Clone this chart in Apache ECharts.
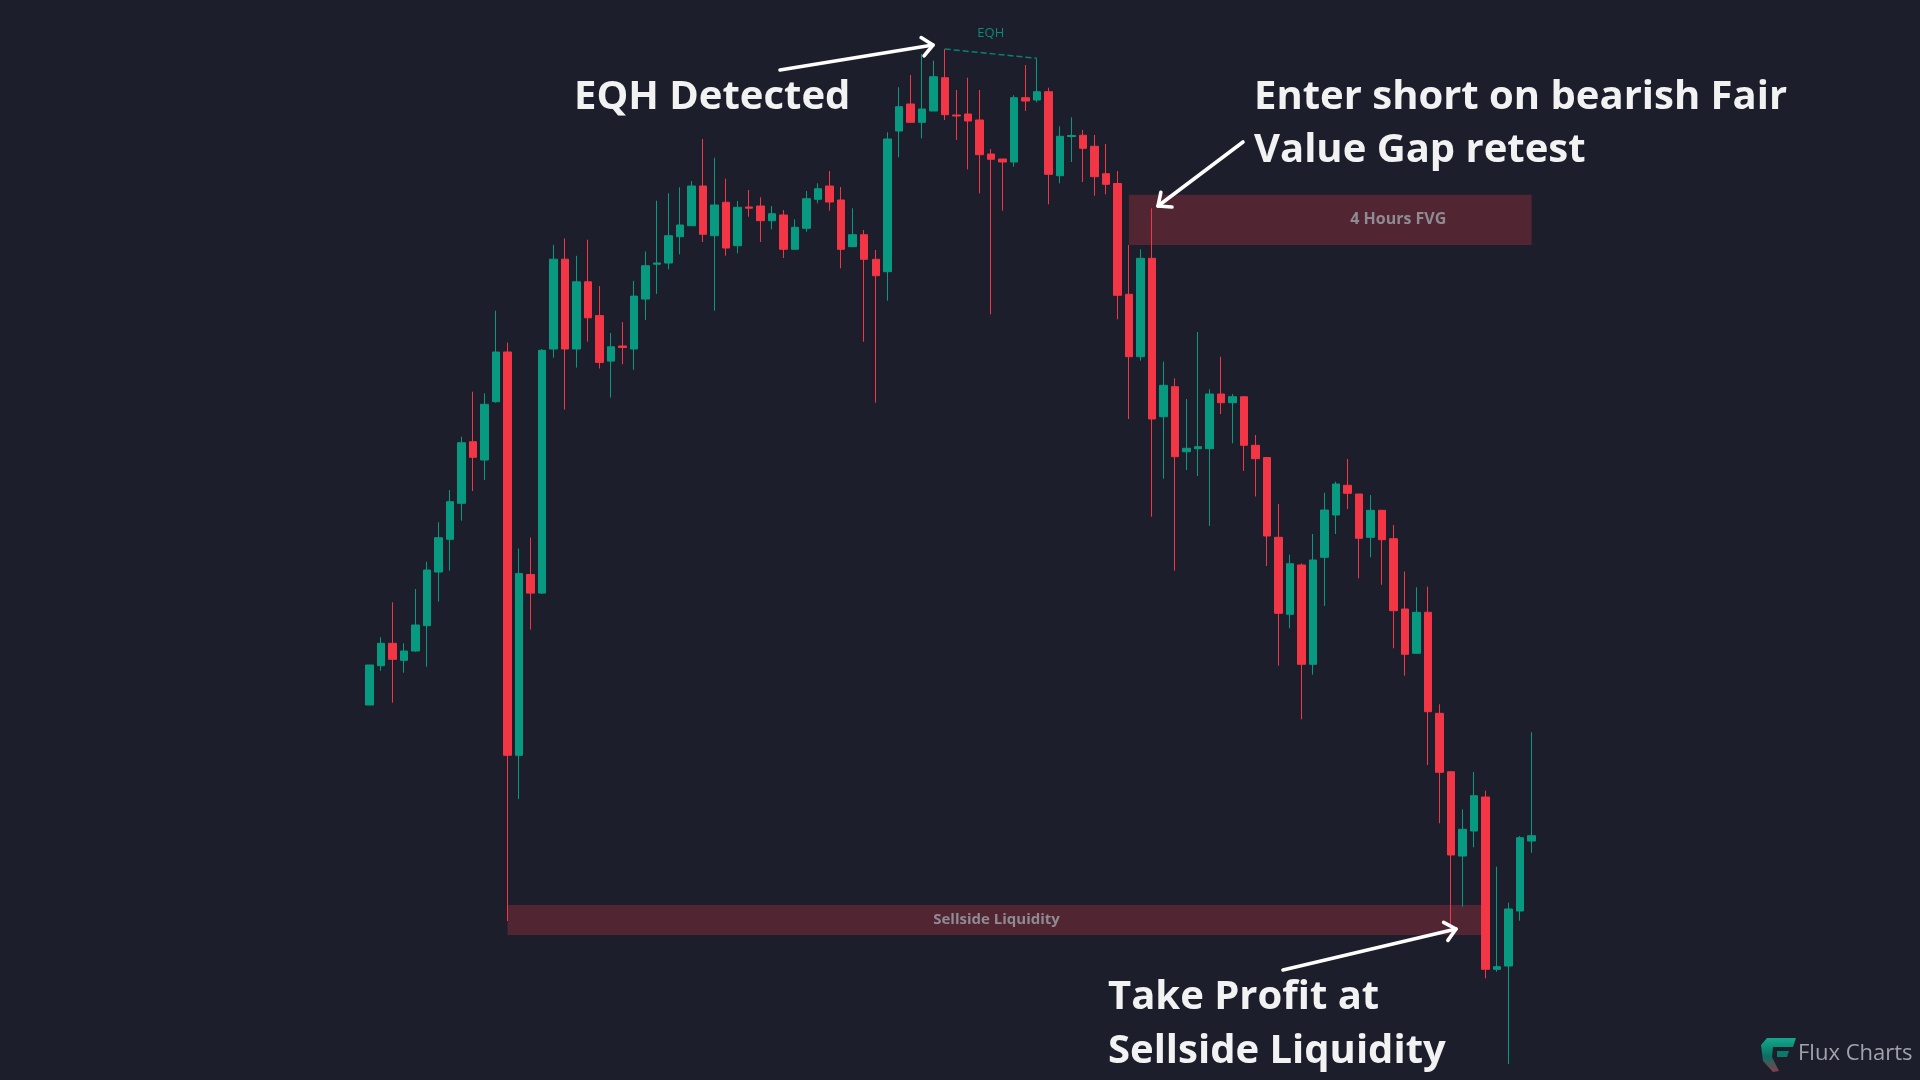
<!DOCTYPE html>
<html><head><meta charset="utf-8">
<script src="https://cdn.jsdelivr.net/npm/echarts@6/dist/echarts.min.js"></script>
<style>html,body{margin:0;padding:0;background:#1c1f2b;overflow:hidden}#c{width:1920px;height:1080px}</style>
</head><body><div id="c"></div>
<script>
// Price levels (arbitrary units, no axis shown in the reference)
const opens = [375,414.3,436.7,419.7,429,454.3,508,540.7,576.7,638.3,620,678.3,728,324.7,505.5,486.9,731,820.8,731,798.2,764.4,718.9,734,731,780.9,815.8,817,843.3,854.3,894,844.3,877.7,834.3,873,874,859.3,865,830.7,851.7,880.7,894,880,833.3,845.3,820.7,808.3,949,976,957.7,969,1002.3,965,966,960,926,921,918,982.3,980,988.3,904.3,943.5,944.7,933.7,906.3,896.5,785.7,723.3,821.7,663.3,693.3,628.3,631.3,631.3,686,677.3,683.3,634.7,622.5,542.7,465.7,515,415.7,522.7,565,594.7,586,542.7,569.7,541.3,471,426.7,467.7,366.7,308.3,224,249,283,110.7,114,169,239];
const closes = [415,436.7,420.7,429,455,510,542.3,578.3,637.3,622.7,675.7,728,324.7,506.4,486.9,729.7,820.8,731,798.2,762.2,717.6,733.2,732.5,783.9,814.3,817,844.3,855,894,845.7,875,832,872.7,871.8,859.3,866.3,830.7,852.7,881.3,891.3,878,830.7,845.3,820.7,804.3,941,973.3,957.7,971,1003.3,965.3,964,959,925.3,920.7,918,982.3,979,988.3,905.7,943.7,944.5,931.7,903.3,895.7,784.7,723.3,821.7,661,694.7,623.3,631.7,633.3,686,677.3,683.3,634.7,621.3,544,466.7,516.3,415.7,520,570,596,586.7,541.7,569.7,540.3,469.3,425.7,467.7,368.3,307.7,225,250.7,284.3,110.7,113.3,171,242.3,244.3];
const lows = [375,409.3,377.3,407.3,428.3,413.3,478.3,509.3,559.3,589,600,677.3,159,280.9,450.4,486,722.3,670.3,712.4,738.4,711.5,682.4,715.8,710.2,760.1,786.1,810.7,825.7,854.3,838,769.3,824.3,826.7,863.3,838,850.7,822,830.7,848.3,876.7,869.3,811.7,833.3,738.3,677.3,779.3,922.7,957.7,941.7,969,960,940,910.7,886.7,765.7,869.3,913.3,969,977.7,875.7,896.7,918,898,884.3,885.7,760.7,661,719.3,563.3,601.3,509.3,610,604,554,666,636.7,609,583.5,514,414.3,451.7,360.7,405.3,474,546,571,501.7,522.7,495.3,431.7,404.3,426.7,315,256.7,155,173.3,232.7,101.7,108.3,16,159.3,227.3];
const highs = [415,442.7,477.7,436.7,491,518.3,557.7,590,643.3,688.3,686.7,769.3,737.5,531.5,542.4,731,835.1,841.6,824.2,840.3,793.9,747,757.9,799.1,828.6,879.3,886.8,892.7,899,941,922.3,901.3,879,890,882.7,874,870,860.7,889,896.7,909,893,871.7,850,830,947.7,992.7,1005,1026,1019.3,1031,990,1002.3,990,931,921,984.7,1015,1021,992.3,953.7,962.7,950,945,936,909,835,830.7,871.7,718.3,701.7,681,748,690.7,723.3,686,683.3,645,622.7,576,525.3,516.7,546,587.3,598.3,621,586,585,569.7,555,508.5,492.7,493.3,375.7,308.3,270.7,308,289.3,213.3,177.3,244,347.7];
const categories = opens.map((_, i) => String(i));
// zones: [fromCandle, toCandle, lowPrice, highPrice]
const fvgZone = [66, 101, 835, 885.3];
const sellsideZone = [12, 97, 145, 175];
// equal highs: [candle, price]
const eqhPoints = [[50, 1031], [58, 1021.7]];
const eqhLabelAt = [54, 1047];

const ohlc = opens.map((o, i) => [o, closes[i], lows[i], highs[i]]);
const UP = '#089981', DOWN = '#f23645';

function arrow(x1, y1, x2, y2) {
  const ang = Math.atan2(y2 - y1, x2 - x1), L = 14, a = 0.72;
  const p1 = [x2 - L * Math.cos(ang - a), y2 - L * Math.sin(ang - a)];
  const p2 = [x2 - L * Math.cos(ang + a), y2 - L * Math.sin(ang + a)];
  const st = {stroke: '#ffffff', lineWidth: 3.6, lineCap: 'round', lineJoin: 'round', fill: null};
  return [
    {type: 'polyline', shape: {points: [[x1, y1], [x2, y2]]}, style: st, z: 100},
    {type: 'polyline', shape: {points: [p1, [x2, y2], p2]}, style: st, z: 100}
  ];
}
function txt(s, x, y, font, fill) {
  return {type: 'text', z: 100, style: {text: s, x: x, y: y, font: font, fill: fill, align: 'left', verticalAlign: 'middle'}};
}
const big = '700 40px "Open Sans"';
const logoGrad = {type: 'linear', x: 0, y: 0, x2: 0, y2: 1, colorStops: [{offset: 0, color: '#14a88c'}, {offset: 0.55, color: '#0b6f64'}, {offset: 1, color: '#8c3b4a'}]};
const zoneFont = '"Liberation Sans Narrow", "Open Sans", sans-serif';

const chart = echarts.init(document.getElementById('c'), null, {renderer: 'canvas'});
chart.setOption({
  backgroundColor: '#1c1f2b',
  animation: false,
  grid: {left: 363.7, right: 382.6, top: 0, bottom: 0},
  xAxis: {type: 'category', data: categories, show: false, boundaryGap: true},
  yAxis: {type: 'value', min: 0, max: 1080, show: false, splitLine: {show: false}},
  series: [{
    type: 'candlestick',
    data: ohlc,
    barWidth: 8,
    itemStyle: {color: UP, color0: DOWN, borderColor: UP, borderColor0: DOWN, borderWidth: 1},
    markArea: {
      silent: true,
      itemStyle: {color: '#522533', opacity: 1},
      data: [
        [{xAxis: String(fvgZone[0]), yAxis: fvgZone[3], label: {show: true, position: 'inside', offset: [68, 0], formatter: '4 Hours FVG', color: '#8e8b93', fontSize: 16, fontWeight: 'bold', fontFamily: zoneFont}},
         {xAxis: String(fvgZone[1]), yAxis: fvgZone[2]}],
        [{xAxis: String(sellsideZone[0]), yAxis: sellsideZone[3], label: {show: true, position: 'inside', formatter: 'Sellside Liquidity', color: '#8e8b93', fontSize: 15, fontWeight: 'bold', fontFamily: zoneFont}},
         {xAxis: String(sellsideZone[1]), yAxis: sellsideZone[2]}]
      ]
    },
    markLine: {
      silent: true,
      symbol: ['none', 'none'],
      lineStyle: {color: UP, type: 'dashed', width: 1.5, opacity: 0.8},
      label: {show: false},
      data: [[{coord: [String(eqhPoints[0][0]), eqhPoints[0][1]]}, {coord: [String(eqhPoints[1][0]), eqhPoints[1][1]]}]]
    },
    markPoint: {
      silent: true,
      symbol: 'circle', symbolSize: 1,
      itemStyle: {color: 'rgba(0,0,0,0)'},
      label: {show: true, formatter: 'EQH', position: 'inside', color: '#0b8a75', fontSize: 13, fontFamily: '"Open Sans", sans-serif'},
      data: [{coord: [String(eqhLabelAt[0]), eqhLabelAt[1]]}]
    }
  }],
  graphic: [
    ...arrow(780, 70, 933, 45),
    ...arrow(1243, 142, 1158, 206),
    ...arrow(1283, 970, 1456, 929),
    txt('EQH Detected', 574, 98, big, '#f2f2f2'),
    txt('Enter short on bearish Fair', 1254, 98, big, '#f2f2f2'),
    txt('Value Gap retest', 1254, 151, big, '#f2f2f2'),
    txt('Take Profit at', 1108, 998, big, '#f2f2f2'),
    txt('Sellside Liquidity', 1108, 1052, big, '#f2f2f2'),
    {type: 'polygon', z: 100, shape: {points: [[1767,1038],[1796,1038],[1793,1047],[1773,1047],[1772,1057],[1779,1071],[1773,1072],[1763,1061],[1761,1045]]}, style: {fill: logoGrad}},
    {type: 'polygon', z: 100, shape: {points: [[1777,1051],[1789,1051],[1787,1057],[1777,1057]]}, style: {fill: '#0c7a6a'}},
    txt('Flux Charts', 1798, 1054, '500 22px "Open Sans"', '#a2a2ab')
  ]
});
</script></body></html>
